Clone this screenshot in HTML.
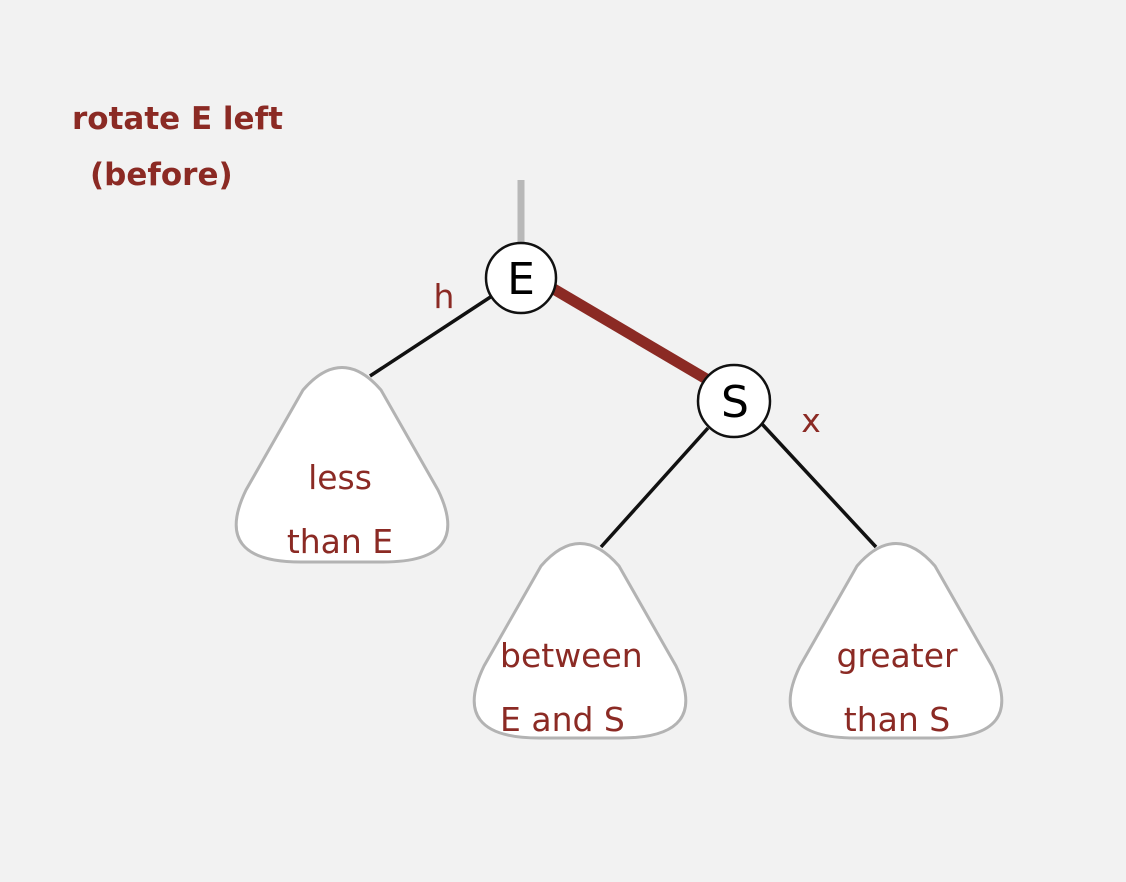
<!DOCTYPE html>
<html><head><style>
html,body{margin:0;padding:0;background:#f2f2f2;}
svg{display:block;}
</style></head><body>
<svg width="1126" height="882" viewBox="0 0 1126 882" xmlns="http://www.w3.org/2000/svg">
<rect width="1126" height="882" fill="#f2f2f2"/>
<g font-family="'DejaVu Sans','Liberation Sans',sans-serif" fill="#8b2a24">
<text x="72" y="129" font-size="31" font-weight="bold">rotate E left</text>
<text x="90" y="185" font-size="31" font-weight="bold">(before)</text>
</g>
<line x1="521" y1="180" x2="521" y2="245" stroke="#b8b8b8" stroke-width="7"/>
<line x1="492" y1="296" x2="370" y2="376" stroke="#111" stroke-width="3.5"/>
<line x1="708" y1="428" x2="601" y2="547" stroke="#111" stroke-width="3.5"/>
<line x1="762" y1="424" x2="876" y2="547" stroke="#111" stroke-width="3.5"/>
<line x1="552" y1="288" x2="708" y2="380" stroke="#8b2a24" stroke-width="11"/>
<g fill="#fff" stroke="#b3b3b3" stroke-width="3">
<path transform="translate(233,365)" d="M 70,25 Q 109,-20 148,25 L 205,125 Q 240,197 150,197 L 68,197 Q -22,197 13,125 Z"/>
<path transform="translate(471,541)" d="M 70,25 Q 109,-20 148,25 L 205,125 Q 240,197 150,197 L 68,197 Q -22,197 13,125 Z"/>
<path transform="translate(787,541)" d="M 70,25 Q 109,-20 148,25 L 205,125 Q 240,197 150,197 L 68,197 Q -22,197 13,125 Z"/>
</g>
<circle cx="521" cy="278" r="35" fill="#fff" stroke="#111" stroke-width="2.5"/>
<circle cx="734" cy="401" r="36" fill="#fff" stroke="#111" stroke-width="2.5"/>
<g font-family="'DejaVu Sans','Liberation Sans',sans-serif" fill="#000" font-size="44" text-anchor="middle">
<text x="521" y="294">E</text>
<text x="735" y="417">S</text>
</g>
<g font-family="'DejaVu Sans','Liberation Sans',sans-serif" fill="#8b2a24" font-size="33">
<text x="444" y="308" text-anchor="middle">h</text>
<text x="811" y="432" text-anchor="middle">x</text>
<text x="340" y="489" text-anchor="middle">less</text>
<text x="340" y="553" text-anchor="middle">than E</text>
<text x="500" y="667">between</text>
<text x="500" y="731">E and S</text>
<text x="897" y="667" text-anchor="middle">greater</text>
<text x="897" y="731" text-anchor="middle">than S</text>
</g>
</svg>
</body></html>
